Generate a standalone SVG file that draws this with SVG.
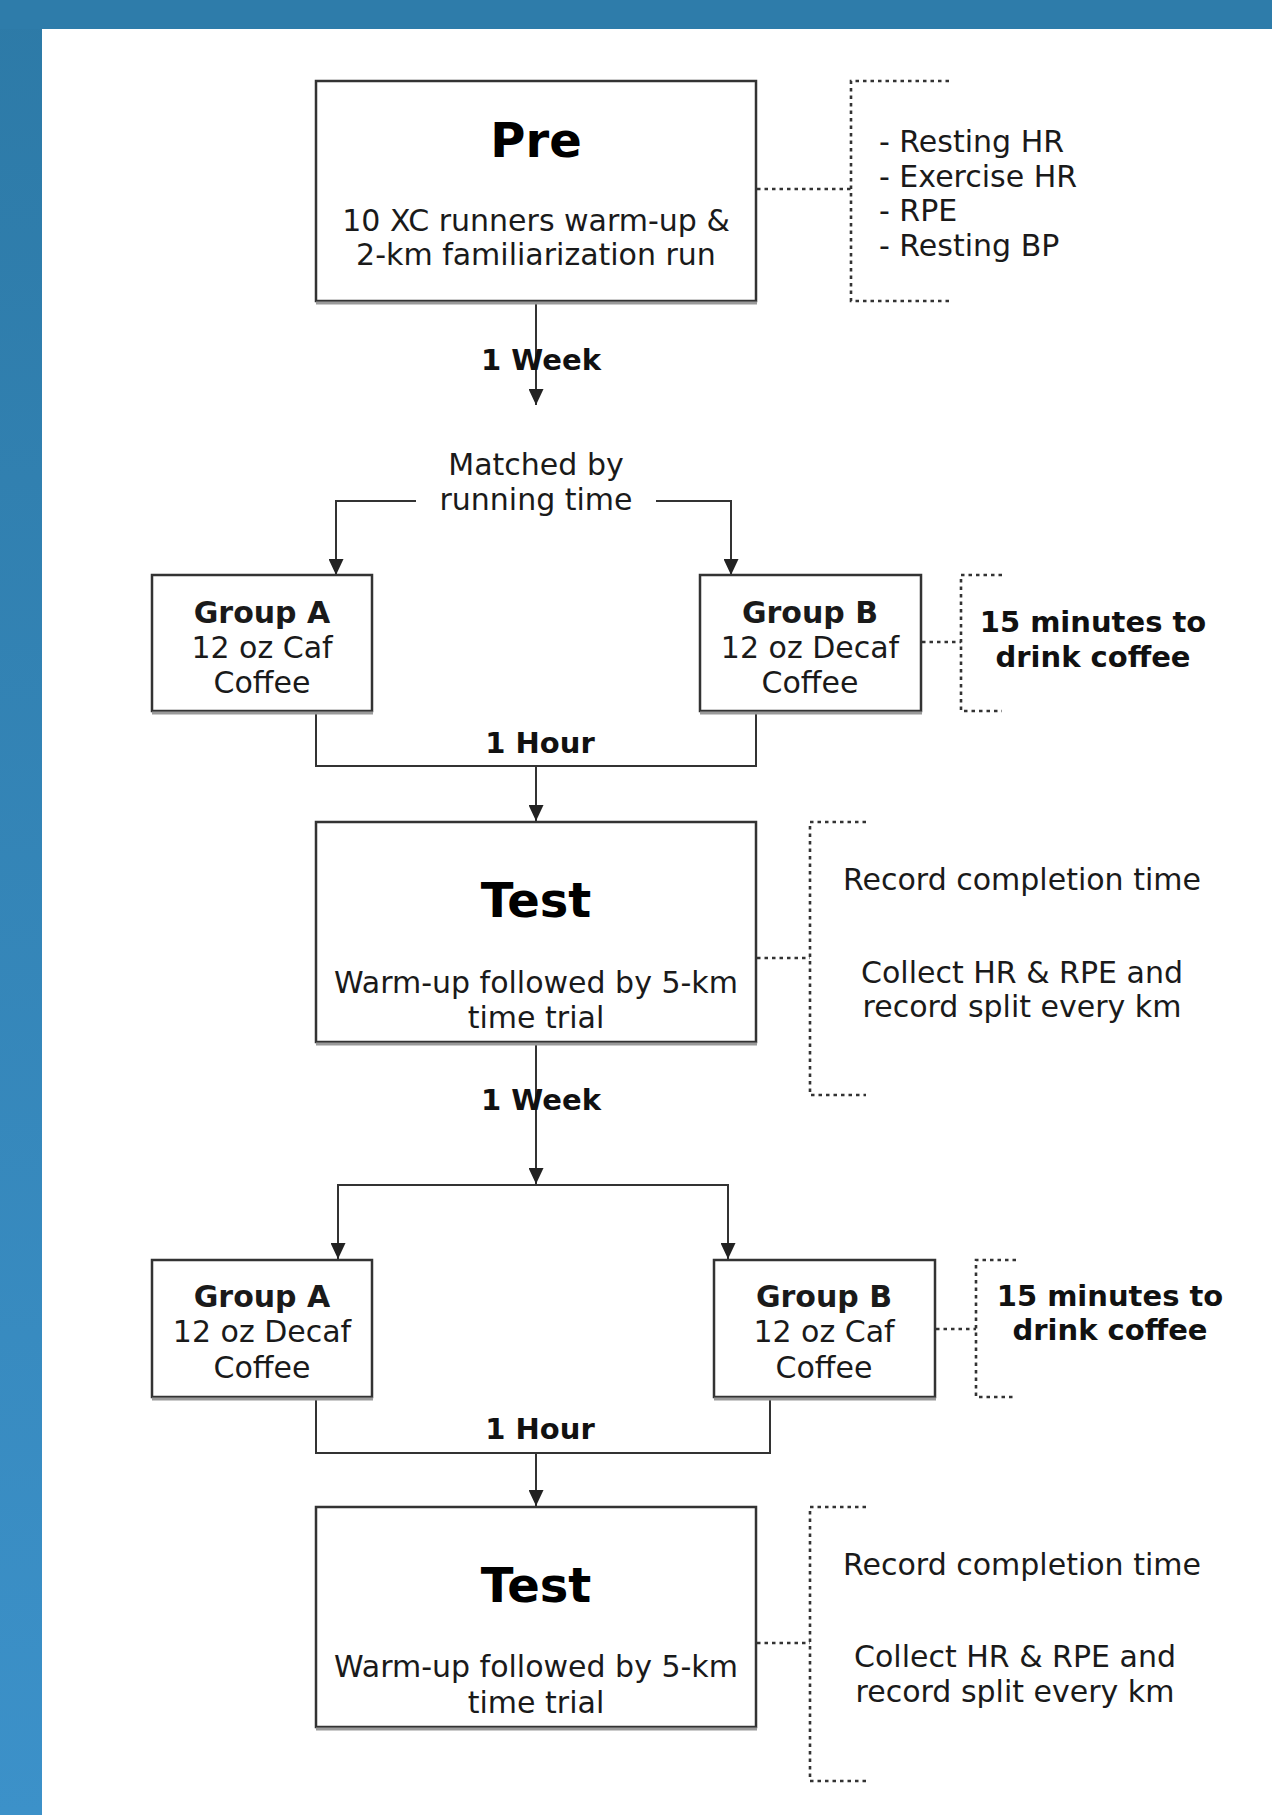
<svg xmlns="http://www.w3.org/2000/svg" width="1272" height="1815" viewBox="0 0 1272 1815">
<style>
.box{fill:#fff;stroke:#333;stroke-width:2.5}
.shadow{fill:none;stroke:#9a9a9a;stroke-width:3}
.conn{fill:none;stroke:#333;stroke-width:2}
.dash{fill:none;stroke:#333;stroke-width:2.6;stroke-dasharray:3.5 4}
text{font-family:"DejaVu Sans","Verdana",sans-serif;fill:#1a1a1a}
.big{font-size:48px;font-weight:bold;text-anchor:middle;fill:#000}
.t{font-size:30px}
.c{text-anchor:middle}
.b{font-weight:bold}
.g{font-size:30px;text-anchor:middle}
.lbl{font-size:29px;font-weight:bold;text-anchor:middle;fill:#111}
</style>
<defs>
<linearGradient id="blue" x1="0" y1="0" x2="0" y2="1">
<stop offset="0" stop-color="#2d7aa7"/>
<stop offset="1" stop-color="#3c91c9"/>
</linearGradient>
<marker id="arr" viewBox="0 0 16 15" refX="16" refY="7.5" markerWidth="16" markerHeight="15" markerUnits="userSpaceOnUse" orient="auto">
<path d="M0,0 L16,7.5 L0,15 z" fill="#222"/>
</marker>
</defs>
<rect x="0" y="0" width="1272" height="1815" fill="#fff"/>
<rect x="0" y="0" width="42" height="1815" fill="url(#blue)"/>
<rect x="0" y="0" width="1272" height="29" fill="#2e7caa"/>

<g id="connectors">
<line class="conn" x1="536" y1="302" x2="536" y2="405" marker-end="url(#arr)"/>
<polyline class="conn" points="416,501 336,501 336,575" marker-end="url(#arr)"/>
<polyline class="conn" points="656,501 731,501 731,575" marker-end="url(#arr)"/>
<polyline class="conn" points="316,712 316,766 756,766 756,712"/>
<line class="conn" x1="536" y1="766" x2="536" y2="821" marker-end="url(#arr)"/>
<line class="conn" x1="536" y1="1043" x2="536" y2="1184" marker-end="url(#arr)"/>
<polyline class="conn" points="338,1259 338,1185 728,1185 728,1259"/>
<line class="conn" x1="338" y1="1186" x2="338" y2="1259" marker-end="url(#arr)"/>
<line class="conn" x1="728" y1="1186" x2="728" y2="1259" marker-end="url(#arr)"/>
<polyline class="conn" points="316,1398 316,1453 770,1453 770,1398"/>
<line class="conn" x1="536" y1="1453" x2="536" y2="1506" marker-end="url(#arr)"/>
<path class="dash" d="M757,189 H851 M949,81 H851 V301 H951"/>
<path class="dash" d="M922,642 H961 M1002,575 H961 V711 H1002"/>
<path class="dash" d="M757,958 H810 M866,822 H810 V1095 H866"/>
<path class="dash" d="M936,1329 H976 M1016,1260 H976 V1397 H1016"/>
<path class="dash" d="M757,1643 H810 M866,1507 H810 V1781 H866"/>
</g>

<g id="pre">
<rect class="box" x="316" y="81" width="440" height="220"/>
<line class="shadow" x1="316" y1="303" x2="757" y2="303"/>
<text class="big" x="536" y="157">Pre</text>
<text class="t c" x="536" y="231">10 XC runners warm-up &amp;</text>
<text class="t c" x="536" y="265">2-km familiarization run</text>
</g>
<g id="pre-measures">
<text class="t" x="879" y="152">- Resting HR</text>
<text class="t" x="879" y="187">- Exercise HR</text>
<text class="t" x="879" y="221">- RPE</text>
<text class="t" x="879" y="256">- Resting BP</text>
</g>
<g id="week1-label"><text class="lbl" x="541" y="370">1 Week</text></g>
<g id="matched">
<text class="t c" x="536" y="475">Matched by</text>
<text class="t c" x="536" y="510">running time</text>
</g>

<g id="groupA1">
<rect class="box" x="152" y="575" width="220" height="136"/>
<line class="shadow" x1="152" y1="713" x2="373" y2="713"/>
<text class="g b" x="262" y="623">Group A</text>
<text class="g" x="262" y="658">12 oz Caf</text>
<text class="g" x="262" y="693">Coffee</text>
</g>
<g id="groupB1">
<rect class="box" x="700" y="575" width="221" height="136"/>
<line class="shadow" x1="700" y1="713" x2="922" y2="713"/>
<text class="g b" x="810" y="623">Group B</text>
<text class="g" x="810" y="658">12 oz Decaf</text>
<text class="g" x="810" y="693">Coffee</text>
</g>
<g id="drink1">
<text class="lbl" x="1093" y="632">15 minutes to</text>
<text class="lbl" x="1093" y="667">drink coffee</text>
</g>
<g id="hour1-label"><text class="lbl" x="540" y="753">1 Hour</text></g>

<g id="test1">
<rect class="box" x="316" y="822" width="440" height="220"/>
<line class="shadow" x1="316" y1="1044" x2="757" y2="1044"/>
<text class="big" x="536" y="917">Test</text>
<text class="t c" x="536" y="993">Warm-up followed by 5-km</text>
<text class="t c" x="536" y="1028">time trial</text>
</g>
<g id="test1-measures">
<text class="t c" x="1022" y="890">Record completion time</text>
<text class="t c" x="1022" y="983">Collect HR &amp; RPE and</text>
<text class="t c" x="1022" y="1017">record split every km</text>
</g>
<g id="week2-label"><text class="lbl" x="541" y="1110">1 Week</text></g>

<g id="groupA2">
<rect class="box" x="152" y="1260" width="220" height="137"/>
<line class="shadow" x1="152" y1="1399" x2="373" y2="1399"/>
<text class="g b" x="262" y="1307">Group A</text>
<text class="g" x="262" y="1342">12 oz Decaf</text>
<text class="g" x="262" y="1378">Coffee</text>
</g>
<g id="groupB2">
<rect class="box" x="714" y="1260" width="221" height="137"/>
<line class="shadow" x1="714" y1="1399" x2="936" y2="1399"/>
<text class="g b" x="824" y="1307">Group B</text>
<text class="g" x="824" y="1342">12 oz Caf</text>
<text class="g" x="824" y="1378">Coffee</text>
</g>
<g id="drink2">
<text class="lbl" x="1110" y="1306">15 minutes to</text>
<text class="lbl" x="1110" y="1340">drink coffee</text>
</g>
<g id="hour2-label"><text class="lbl" x="540" y="1439">1 Hour</text></g>

<g id="test2">
<rect class="box" x="316" y="1507" width="440" height="220"/>
<line class="shadow" x1="316" y1="1729" x2="757" y2="1729"/>
<text class="big" x="536" y="1602">Test</text>
<text class="t c" x="536" y="1677">Warm-up followed by 5-km</text>
<text class="t c" x="536" y="1713">time trial</text>
</g>
<g id="test2-measures">
<text class="t c" x="1022" y="1575">Record completion time</text>
<text class="t c" x="1015" y="1667">Collect HR &amp; RPE and</text>
<text class="t c" x="1015" y="1702">record split every km</text>
</g>
</svg>
